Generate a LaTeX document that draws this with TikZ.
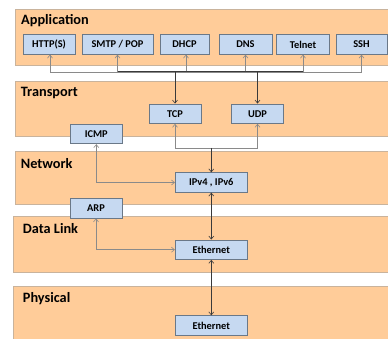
\documentclass[tikz,border=0pt]{standalone}
\usepackage{fontspec}
\setmainfont{Carlito}
\usetikzlibrary{arrows.meta}
\definecolor{bandfill}{HTML}{FFCC99}
\definecolor{banddraw}{HTML}{C9B39C}
\definecolor{boxfill}{HTML}{C6D9F1}
\definecolor{boxdraw}{HTML}{6A7888}
\definecolor{darkline}{HTML}{3A3A3A}
\definecolor{greyline}{HTML}{8A8A8A}
\begin{document}
\begin{tikzpicture}[x=1pt,y=-1pt,
  band/.style={fill=bandfill,draw=banddraw,line width=0.8pt},
  title/.style={anchor=west,font=\bfseries\fontsize{14.3}{16}\selectfont,inner sep=0pt},
  proto/.style={fill=boxfill,draw=boxdraw,line width=0.8pt,font=\bfseries\fontsize{10.4}{12}\selectfont,inner sep=0pt,minimum height=19.5pt},
  dk/.style={draw=darkline,line width=0.6pt},
  gy/.style={draw=greyline,line width=0.6pt},
  >={Straight Barb[length=3pt,width=5pt]}]
\useasboundingbox (0,0) rectangle (388,339);
\clip (0,0) rectangle (388,339);
% bands
\draw[band] (15,9) rectangle (392,65);
\draw[band] (15,81.5) rectangle (392,136);
\draw[band] (15,151.5) rectangle (392,204);
\draw[band] (13,216) rectangle (392,272.7);
\draw[band] (13,286.5) rectangle (392,345);
\node[title] (tApp) at (21,21) {Application};
\node[title] (tTr) at (20.7,93) {Transport};
\node[title] (tNet) at (20.7,163.5) {Network};
\node[title] (tDL) at (22.7,228.5) {Data Link};
\node[title] (tPh) at (22.7,298.5) {Physical};
% application boxes
\node[proto,minimum width=52pt] (http) at (49,44.5) {HTTP(S)};
\node[proto,minimum width=71pt] (smtp) at (117.5,44.5) {SMTP / POP};
\node[proto,minimum width=49pt] (dhcp) at (184.5,44.5) {DHCP};
\node[proto,minimum width=53pt] (dns) at (245.5,44.5) {DNS};
\node[proto,minimum width=52.6pt] (telnet) at (303,44.5) {Telnet};
\node[proto,minimum width=51pt] (ssh) at (361.5,44.5) {SSH};
% transport
\node[proto,minimum width=52pt] (tcp) at (175,113.7) {TCP};
\node[proto,minimum width=52.4pt] (udp) at (257.5,113.7) {UDP};
\node[proto,minimum width=52pt] (icmp) at (96.3,134) {ICMP};
% network
\node[proto,minimum width=72pt] (ip) at (211.3,182.5) {IPv4 , IPv6};
\node[proto,minimum width=52pt] (arp) at (96,208.3) {ARP};
% data link / physical
\node[proto,minimum width=72pt] (eth1) at (211.3,249.7) {Ethernet};
\node[proto,minimum width=72pt] (eth2) at (211.3,325.5) {Ethernet};
% application bus
\coordinate (bg) at (0,72.5);
\coordinate (bd) at (0,71.5);
\draw[gy,->] (http.south -| 50,0) |- (bg -| ssh.south) -- (ssh.south);
\draw[gy,->] (bg -| 50,0) -- (http.south -| 50,0);
\draw[gy,->] (bg -| telnet.south) -- (telnet.south);
\draw[gy,->] (bg -| smtp.south) -- (smtp.south);
\draw[dk] (bd -| smtp.south) -- (bd -| telnet.south);
\draw[gy,->] (bd -| 186,0) -- (dhcp.south -| 186,0);
\draw[gy,->] (bd -| dns.south) -- (dns.south);
\draw[dk,->] (bd -| tcp.north) -- (tcp.north);
\draw[dk,->] (bd -| udp.north) -- (udp.north);
% tcp/udp to ip
\coordinate (tb) at (0,148);
\draw[gy,->] (tb -| tcp.south) -- (tcp.south);
\draw[gy,->] (tb -| udp.south) -- (udp.south);
\draw[gy] (tb -| tcp.south) -- (tb -| udp.south);
\draw[dk,->] (tb -| ip.north) -- (ip.north);
% icmp
\draw[gy,<->] (icmp.south) |- (ip.west);
% arp
\draw[gy,<->] (arp.south) |- (eth1.west);
% ip - eth - eth
\draw[dk,<->] (ip.south) -- (eth1.north);
\draw[dk,<->] (eth1.south) -- (eth2.north);
\end{tikzpicture}
\end{document}
